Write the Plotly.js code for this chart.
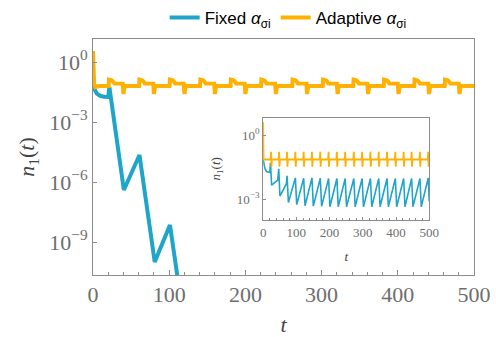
<!DOCTYPE html>
<html>
<head>
<meta charset="utf-8">
<script src="https://cdn.plot.ly/plotly-3.0.1.min.js"></script>
<style>
html,body{margin:0;padding:0;background:#fff;}
#chart{width:496px;height:337px;}
</style>
</head>
<body>
<div id="chart"></div>
<script>
// ---------- Main panel data (values stored as log10 of n1) ----------
const mainFixedT = [0, 1, 2.5, 5, 10, 15, 20, 21.5, 40.5, 61, 81, 101, 121, 141];
const mainFixedLog = [-0.98, -1.2, -1.4, -1.58, -1.7, -1.74, -1.75, -1.25, -6.4, -4.65, -10.0, -8.15, -13.4, -11.6];

const mainAdaptiveT = [0, 0.8, 1.5, 3, 8, 20.5,
  21, 25, 28, 39, 40, 41.5, 60.5,
  61, 65, 68, 79, 80, 81.5, 100.5,
  101, 105, 108, 119, 120, 121.5, 140.5,
  141, 145, 148, 159, 160, 161.5, 180.5,
  181, 185, 188, 199, 200, 201.5, 220.5,
  221, 225, 228, 239, 240, 241.5, 261.5,
  262, 266, 269, 280, 281, 282.5, 301.5,
  302, 306, 309, 320, 321, 322.5, 341.5,
  342, 346, 349, 360, 361, 362.5, 381.5,
  382, 386, 389, 400, 401, 402.5, 421.5,
  422, 426, 429, 440, 441, 442.5, 461.5,
  462, 466, 469, 480, 481, 482.5, 500];
const mainAdaptiveLog = [0.55, -0.4, -1.1, -1.25, -1.2, -1.2,
  -0.88, -0.92, -1.07, -1.08, -1.6, -1.2, -1.2,
  -0.88, -0.92, -1.07, -1.08, -1.6, -1.2, -1.2,
  -0.88, -0.92, -1.07, -1.08, -1.6, -1.2, -1.2,
  -0.88, -0.92, -1.07, -1.08, -1.6, -1.2, -1.2,
  -0.88, -0.92, -1.07, -1.08, -1.6, -1.2, -1.2,
  -0.88, -0.92, -1.07, -1.08, -1.6, -1.2, -1.2,
  -0.88, -0.92, -1.07, -1.08, -1.6, -1.2, -1.2,
  -0.88, -0.92, -1.07, -1.08, -1.6, -1.2, -1.2,
  -0.88, -0.92, -1.07, -1.08, -1.6, -1.2, -1.2,
  -0.88, -0.92, -1.07, -1.08, -1.6, -1.2, -1.2,
  -0.88, -0.92, -1.07, -1.08, -1.6, -1.2, -1.2,
  -0.88, -0.92, -1.07, -1.08, -1.6, -1.2, -1.2];

// ---------- Inset data (log10 of n1) ----------
const insetFixedT = [0, 2, 5, 10, 15, 20, 22, 25.5, 44, 47, 50.5, 70, 72, 76,
  97, 101, 122, 126, 147, 151, 172, 176, 197, 201, 222, 226, 247, 251,
  273, 277, 298, 302, 323, 327, 348, 352, 373, 377, 398, 402, 423, 427,
  447, 451, 472, 476, 497, 500];
const insetFixedLog = [-1.14, -1.35, -1.55, -1.7, -1.74, -1.75, -1.3, -2.34, -2.1, -1.58, -2.85, -2.27, -1.9, -3.15,
  -2.0, -3.25, -2.02, -3.3, -2.0, -3.32, -2.02, -3.33, -2.03, -3.35, -2.03, -3.35, -2.03, -3.35,
  -2.03, -3.35, -2.03, -3.35, -2.03, -3.35, -2.03, -3.35, -2.03, -3.35, -2.03, -3.35, -2.03, -3.35,
  -2.03, -3.35, -2.03, -3.35, -2.0, -3.1];

const insetAdaptiveT = [0, 0.5, 1.2,
  22.5, 24, 25, 26.5, 46.5, 48, 49, 50.5, 70.5, 72, 73, 74.5, 95.5, 97, 98, 99.5,
  120.5, 122, 123, 124.5, 145.5, 147, 148, 149.5, 170.5, 172, 173, 174.5, 195.5, 197, 198, 199.5,
  220.5, 222, 223, 224.5, 245.5, 247, 248, 249.5, 271.5, 273, 274, 275.5, 296.5, 298, 299, 300.5,
  321.5, 323, 324, 325.5, 346.5, 348, 349, 350.5, 371.5, 373, 374, 375.5, 396.5, 398, 399, 400.5,
  421.5, 423, 424, 425.5, 445.5, 447, 448, 449.5, 470.5, 472, 473, 474.5, 495.5, 497, 498, 499.5, 500];
const insetAdaptiveLog = [0.6, -0.5, -1.14,
  -1.14, -0.78, -1.48, -1.14, -1.14, -0.78, -1.48, -1.14, -1.14, -0.78, -1.48, -1.14, -1.14, -0.78, -1.48, -1.14,
  -1.14, -0.78, -1.48, -1.14, -1.14, -0.78, -1.48, -1.14, -1.14, -0.78, -1.48, -1.14, -1.14, -0.78, -1.48, -1.14,
  -1.14, -0.78, -1.48, -1.14, -1.14, -0.78, -1.48, -1.14, -1.14, -0.78, -1.48, -1.14, -1.14, -0.78, -1.48, -1.14,
  -1.14, -0.78, -1.48, -1.14, -1.14, -0.78, -1.48, -1.14, -1.14, -0.78, -1.48, -1.14, -1.14, -0.78, -1.48, -1.14,
  -1.14, -0.78, -1.48, -1.14, -1.14, -0.78, -1.48, -1.14, -1.14, -0.78, -1.48, -1.14, -1.14, -0.78, -1.48, -1.14, -1.14];

// ---------- Tick labels ----------
const mainYTickVals = [1, 1e-3, 1e-6, 1e-9];
const mainYTickText = ['10<sup>0</sup>', '10<sup>\u22123</sup>', '10<sup>\u22126</sup>', '10<sup>\u22129</sup>'];
const insetYTickVals = [1, 1e-3];
const insetYTickText = ['10<sup>0</sup>', '10<sup>\u22123</sup>'];
const xTickVals = [0, 100, 200, 300, 400, 500];

const seriesNames = ['Fixed <i>\u03b1</i><sub>\u03c3i</sub>', 'Adaptive <i>\u03b1</i><sub>\u03c3i</sub>'];
const BLUE = '#1fa5c7';
const ORANGE = '#ffb000';

const pow10 = a => a.map(v => Math.pow(10, v));

const traces = [
  {x: mainFixedT, y: pow10(mainFixedLog), type: 'scatter', mode: 'lines', name: seriesNames[0],
   line: {color: BLUE, width: 4}, xaxis: 'x', yaxis: 'y'},
  {x: mainAdaptiveT, y: pow10(mainAdaptiveLog), type: 'scatter', mode: 'lines', name: seriesNames[1],
   line: {color: ORANGE, width: 4}, xaxis: 'x', yaxis: 'y'},
  {x: insetFixedT, y: pow10(insetFixedLog), type: 'scatter', mode: 'lines', showlegend: false,
   line: {color: BLUE, width: 1.6}, xaxis: 'x2', yaxis: 'y2'},
  {x: insetAdaptiveT, y: pow10(insetAdaptiveLog), type: 'scatter', mode: 'lines', showlegend: false,
   line: {color: ORANGE, width: 1.8}, xaxis: 'x2', yaxis: 'y2'}
];

const SERIF = 'Liberation Serif, DejaVu Serif, serif';
const GRAY = '#8c8c8c';
const TICKTXT = '#6e6e6e';

const layout = {
  width: 496, height: 337,
  margin: {l: 93, r: 22, t: 39, b: 62, pad: 0},
  paper_bgcolor: '#fff', plot_bgcolor: '#fff',
  showlegend: true,
  legend: {orientation: 'h', xref: 'container', yref: 'container', x: 0.332, xanchor: 'left',
           y: 1.0, yanchor: 'top', font: {family: 'Liberation Sans, Arial, sans-serif', size: 17, color: '#000'},
           bgcolor: 'rgba(0,0,0,0)', itemwidth: 30, tracegroupgap: 0},
  xaxis: {domain: [0, 1], range: [0, 500], showgrid: false, zeroline: false,
          showline: true, linecolor: GRAY, linewidth: 1, mirror: true,
          ticks: 'inside', ticklen: 5, tickcolor: GRAY, tickvals: xTickVals,
          minor: {dtick: 20, ticks: 'inside', ticklen: 3, tickcolor: GRAY},
          tickfont: {family: SERIF, size: 22, color: TICKTXT},
          title: {text: '<i>t</i>', font: {family: SERIF, size: 22, color: '#444'}, standoff: 13}},
  yaxis: {domain: [0, 1], type: 'log', range: [-10.65, 1.15], showgrid: false, zeroline: false,
          showline: true, linecolor: GRAY, linewidth: 1, mirror: true,
          ticks: 'inside', ticklen: 4, tickcolor: GRAY, tickvals: mainYTickVals, ticktext: mainYTickText,
          tickfont: {family: SERIF, size: 22, color: TICKTXT},
          title: {text: '<i>n</i><sub>1</sub>(<i>t</i>)', font: {family: SERIF, size: 22, color: '#444'}, standoff: 8}},
  xaxis2: {domain: [0.4466, 0.8825], anchor: 'y2', range: [0, 500], showgrid: false, zeroline: false,
           showline: true, linecolor: GRAY, linewidth: 1, mirror: true,
           ticks: 'inside', ticklen: 3, tickcolor: GRAY, tickvals: xTickVals,
           minor: {dtick: 20, ticks: 'inside', ticklen: 2, tickcolor: GRAY},
           tickfont: {family: SERIF, size: 13, color: TICKTXT},
           title: {text: '<i>t</i>', font: {family: SERIF, size: 13, color: '#444'}, standoff: 13}},
  yaxis2: {domain: [0.233, 0.667], anchor: 'x2', type: 'log', range: [-3.97, 0.82], showgrid: false, zeroline: false,
           showline: true, linecolor: GRAY, linewidth: 1, mirror: true,
           ticks: 'inside', ticklen: 3, tickcolor: GRAY, tickvals: insetYTickVals, ticktext: insetYTickText,
           tickfont: {family: SERIF, size: 13, color: TICKTXT},
           title: {text: '<i>n</i><sub>1</sub>(<i>t</i>)', font: {family: SERIF, size: 13, color: '#444'}, standoff: 13}}
};

Plotly.newPlot('chart', traces, layout, {displayModeBar: false, staticPlot: true});
</script>
</body>
</html>
